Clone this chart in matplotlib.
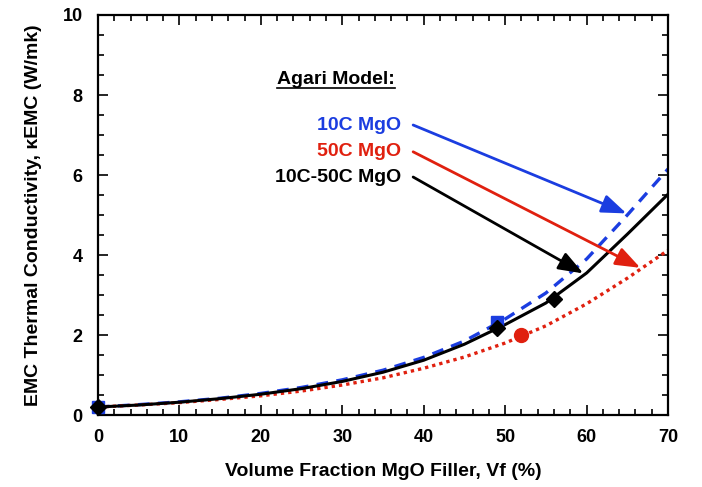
import matplotlib
matplotlib.use("Agg")
import matplotlib.pyplot as plt
from matplotlib.lines import Line2D
from matplotlib.ticker import MultipleLocator

plt.rcParams["font.family"] = ["Liberation Sans", "DejaVu Sans"]
plt.rcParams["font.weight"] = "bold"

# Agari model curves
vf = [0, 5, 10, 15, 20, 25, 30, 35, 40, 45, 50, 55, 60, 65, 70]
k_10c = [0.20, 0.26, 0.33, 0.42, 0.54, 0.69, 0.88, 1.12, 1.44, 1.85, 2.40, 3.05, 3.90, 5.00, 6.15]
k_50c = [0.20, 0.25, 0.31, 0.39, 0.48, 0.60, 0.75, 0.93, 1.17, 1.45, 1.80, 2.23, 2.78, 3.42, 4.12]
k_mix = [0.20, 0.25, 0.32, 0.41, 0.52, 0.66, 0.84, 1.07, 1.37, 1.77, 2.26, 2.80, 3.55, 4.52, 5.52]

# measured points
pts_10c_x = [0, 49]
pts_10c_y = [0.2, 2.33]
pts_50c_x = [52]
pts_50c_y = [2.0]
pts_mix_x = [0, 49, 56]
pts_mix_y = [0.2, 2.17, 2.9]

BLUE = "#1b3de0"
RED = "#e0200f"

fig = plt.figure(figsize=(7.02, 4.87), dpi=100)
ax = fig.add_axes([0.1396, 0.1478, 0.812, 0.8214])

ax.plot(vf, k_10c, color=BLUE, lw=2.4, ls=(0, (3.5, 2.5)))
ax.plot(vf, k_50c, color=RED, lw=2.4, ls=(0, (1, 1.2)))
ax.plot(vf, k_mix, color="black", lw=2.2)

ax.plot(pts_10c_x, pts_10c_y, ls="none", marker="s", ms=9, color=BLUE, clip_on=False, zorder=5)
ax.plot(pts_50c_x, pts_50c_y, ls="none", marker="o", ms=10, color=RED, clip_on=False, zorder=5)
ax.plot(pts_mix_x, pts_mix_y, ls="none", marker="D", ms=8, color="black", clip_on=False, zorder=6)

ax.set_xlim(0, 70)
ax.set_ylim(0, 10)
ax.xaxis.set_major_locator(MultipleLocator(10))
ax.xaxis.set_minor_locator(MultipleLocator(2))
ax.yaxis.set_major_locator(MultipleLocator(2))
ax.yaxis.set_minor_locator(MultipleLocator(0.5))
ax.tick_params(which="both", direction="in", top=True, right=True, width=1.2, labelsize=13)
ax.tick_params(axis="x", which="both", pad=10)
ax.tick_params(axis="y", which="both", pad=11)
ax.tick_params(which="major", length=7)
ax.tick_params(which="minor", length=4)
for s in ax.spines.values():
    s.set_linewidth(1.6)

ax.set_xlabel("Volume Fraction MgO Filler, Vf (%)", fontsize=14, fontweight="bold", labelpad=12)
ax.set_ylabel("EMC Thermal Conductivity, \u03baEMC (W/mk)", fontsize=14, fontweight="bold", labelpad=15)

# legend-like labels with arrows
t = ax.text(29.2, 8.4, "Agari Model:", fontsize=14, fontweight="bold", ha="center", va="center")
for label, col, ystart, tip in [
    ("10C MgO", BLUE, 7.25, (64.9, 5.04)),
    ("50C MgO", RED, 6.58, (66.6, 3.68)),
    ("10C-50C MgO", "black", 5.95, (59.6, 3.54)),
]:
    ax.text(37.2, ystart, label, color=col, fontsize=14, fontweight="bold", ha="right", va="center")
    ax.annotate("", xy=tip, xytext=(38.7, ystart),
                arrowprops=dict(arrowstyle="-|>,head_length=0.75,head_width=0.28", color=col, lw=2,
                                mutation_scale=20, shrinkA=0, shrinkB=0))

# underline for the heading
fig.canvas.draw()
bb = t.get_window_extent().transformed(fig.transFigure.inverted())
fig.add_artist(Line2D([bb.x0, bb.x1], [bb.y0 - 0.002, bb.y0 - 0.002], color="black", lw=1.2,
                      transform=fig.transFigure))

fig.savefig("out.png", dpi=100)
